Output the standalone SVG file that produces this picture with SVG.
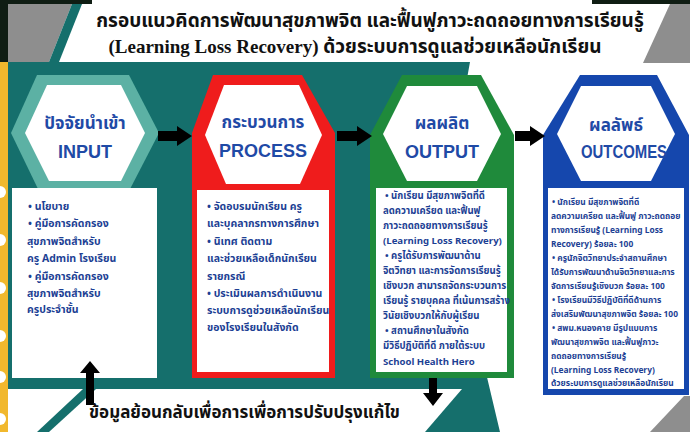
<svg xmlns="http://www.w3.org/2000/svg" width="690" height="432" viewBox="0 0 690 432">
<defs>
<style>
.bg-teal{fill:#156f6c}
.title{font-family:"Liberation Serif","Noto Sans Thai","Noto Serif Thai",serif;font-weight:bold;font-size:19px;fill:#111}
.hth{font-family:"Noto Sans Thai","Liberation Sans","Noto Sans",sans-serif;font-weight:bold;font-size:17px;fill:#1f4aa6;text-anchor:middle}
.hen{font-family:"Liberation Sans","Noto Sans",sans-serif;font-weight:bold;font-size:18px;fill:#1f4aa6;text-anchor:middle}
.body{font-family:"Noto Sans Thai","Liberation Sans","Noto Sans",sans-serif;font-weight:bold;fill:#1d3f94}
.fb{font-family:"Noto Sans Thai","Liberation Sans","Noto Sans",sans-serif;font-weight:bold;font-size:17px;fill:#111}
.arrow{fill:#000}
.white{fill:#fff}
</style>
</defs>

<!-- background -->
<rect x="0" y="0" width="690" height="432" fill="#fff"/>
<polygon class="bg-teal" points="8,62 470,62 445,200 500,432 8,432"/>
<polygon class="white" points="96,389 462,389 425,432 49,432"/>
<polygon class="white" points="8,389 83,389 37,432 8,432"/>
<rect x="0" y="0" width="92" height="4" fill="#0f1d13"/>
<rect x="0" y="0" width="8" height="64" fill="#0f1d13"/>
<polygon points="8,4 72,4 49,62 8,62" fill="#8e8e8e"/>
<polygon points="72,4 82,4 59,62 49,62" fill="#156f6c"/>
<rect x="592" y="0" width="98" height="4" fill="#0f1d13"/>
<polygon points="670,4 690,4 690,63 643,63" fill="#8e8e8e"/>
<polygon points="684,396 690,396 690,432 650,432" fill="#8e8e8e"/>
<rect x="0" y="62" width="8" height="370" fill="#f1b82d"/>
<g fill="#fff">
<circle cx="0" cy="192" r="6"/>
<circle cx="0" cy="240" r="6"/>
<circle cx="0" cy="288" r="6"/>
<circle cx="0" cy="336" r="6"/>
<circle cx="0" cy="377" r="6"/>
<circle cx="0" cy="419" r="6"/>
</g>

<g id="title">
<text class="title" x="370" y="27" text-anchor="middle">กรอบแนวคิดการพัฒนาสุขภาพจิต และฟื้นฟูภาวะถดถอยทางการเรียนรู้</text>
<text class="title" x="355" y="53" text-anchor="middle">(Learning Loss Recovery) ด้วยระบบการดูแลช่วยเหลือนักเรียน</text>
</g>

<g id="input">
<polygon points="37,75 129,75 159,133 129,191 39,191 11,133" fill="#5cb1a4"/>
<polygon points="47,85 121,85 145,133 121,181 49,181 25,133" fill="#fff"/>
<text class="hth" x="85" y="129">ปัจจัยนำเข้า</text>
<text class="hen" x="85" y="158">INPUT</text>
<rect x="12" y="188" width="145" height="190" fill="#fff"/>
<g class="body" font-size="10.5">
<text x="28" y="210">• นโยบาย</text>
<text x="28" y="227">• คู่มือการคัดกรอง</text>
<text x="27" y="245">สุขภาพจิตสำหรับ</text>
<text x="27" y="262">ครู Admin โรงเรียน</text>
<text x="28" y="280">• คู่มือการคัดกรอง</text>
<text x="27" y="297">สุขภาพจิตสำหรับ</text>
<text x="27" y="313">ครูประจำชั้น</text>
</g>
</g>

<g id="process">
<polygon points="213,75 302,75 335,133 335,378 192,378 192,133" fill="#ef1c1c"/>
<polygon points="224,85 299,85 322,135 300,184 226,184 205,135" fill="#fff"/>
<rect x="197" y="190" width="132" height="182" fill="#fff"/>
<text class="hth" x="263" y="128">กระบวนการ</text>
<text class="hen" x="263" y="157">PROCESS</text>
<g class="body" font-size="10.5">
<text x="207" y="210">• จัดอบรมนักเรียน ครู</text>
<text x="207" y="227">และบุคลากรทางการศึกษา</text>
<text x="207" y="245">• นิเทศ ติดตาม</text>
<text x="207" y="262">และช่วยเหลือเด็กนักเรียน</text>
<text x="207" y="280">รายกรณี</text>
<text x="207" y="297">• ประเมินผลการดำเนินงาน</text>
<text x="207" y="314">ระบบการดูช่วยเหลือนักเรียน</text>
<text x="207" y="331">ของโรงเรียนในสังกัด</text>
</g>
</g>

<g id="output">
<polygon points="402,75 481,75 514,135 514,378 370,378 370,135" fill="#1f8a3b"/>
<polygon points="407,86 477,86 501,134 477,181 407,181 383,134" fill="#fff"/>
<rect x="376" y="188" width="131" height="184" fill="#fff"/>
<text class="hth" x="442" y="129">ผลผลิต</text>
<text class="hen" x="442" y="158">OUTPUT</text>
<g class="body" font-size="9.6">
<text x="385" y="199">• นักเรียน มีสุขภาพจิตที่ดี</text>
<text x="383" y="214">ลดความเครียด และฟื้นฟู</text>
<text x="383" y="229">ภาวะถดถอยทางการเรียนรู้</text>
<text x="383" y="244">(Learning Loss Recovery)</text>
<text x="385" y="259">• ครูได้รับการพัฒนาด้าน</text>
<text x="383" y="274">จิตวิทยา และการจัดการเรียนรู้</text>
<text x="383" y="289">เชิงบวก สามารถจัดกระบวนการ</text>
<text x="383" y="304">เรียนรู้ รายบุคคล ที่เน้นการสร้าง</text>
<text x="383" y="319">วินัยเชิงบวกให้กับผู้เรียน</text>
<text x="385" y="334">• สถานศึกษาในสังกัด</text>
<text x="383" y="349">มีวิธีปฏิบัติที่ดี ภายใต้ระบบ</text>
<text x="383" y="365">School Health Hero</text>
</g>
</g>

<g id="outcomes">
<polygon points="580,75 657,75 689,135 689,395 543,395 543,135" fill="#1547ad"/>
<polygon points="581,86 651,86 675,134 651,181 581,181 557,134" fill="#fff"/>
<rect x="548" y="188" width="136" height="201" fill="#fff"/>
<text class="hth" x="616" y="131">ผลลัพธ์</text>
<text class="hen" x="624" y="158" textLength="86" lengthAdjust="spacingAndGlyphs">OUTCOMES</text>
<g class="body" font-size="8.4">
<text x="552" y="205">• นักเรียน มีสุขภาพจิตที่ดี</text>
<text x="551" y="219">ลดความเครียด และฟื้นฟู ภาวะถดถอย</text>
<text x="551" y="233">ทางการเรียนรู้ (Learning Loss</text>
<text x="551" y="247">Recovery) ร้อยละ 100</text>
<text x="552" y="261">• ครูนักจิตวิทยาประจำสถานศึกษา</text>
<text x="551" y="275">ได้รับการพัฒนาด้านจิตวิทยาและการ</text>
<text x="551" y="289">จัดการเรียนรู้เชิงบวก ร้อยละ 100</text>
<text x="552" y="303">• โรงเรียนมีวิธีปฏิบัติที่ดีด้านการ</text>
<text x="551" y="317">ส่งเสริมพัฒนาสุขภาพจิต ร้อยละ 100</text>
<text x="552" y="331">• สพม.หนองคาย มีรูปแบบการ</text>
<text x="551" y="345">พัฒนาสุขภาพจิต และฟื้นฟูภาวะ</text>
<text x="551" y="359">ถดถอยทางการเรียนรู้</text>
<text x="551" y="373">(Learning Loss Recovery)</text>
<text x="551" y="386">ด้วยระบบการดูแลช่วยเหลือนักเรียน</text>
</g>
</g>

<g id="connectors" class="arrow">
<polygon points="158,131 177,131 177,126 192,136 177,146 177,141 158,141"/>
<polygon points="337,131 357,131 357,126 372,136 357,146 357,141 337,141"/>
<polygon points="515,131 530,131 530,126 545,136 530,146 530,141 515,141"/>
<polygon points="86,405 86,373 80,373 90,361 100,373 94,373 94,405"/>
<polygon points="429,378 437,378 437,393 443,393 433,406 423,393 429,393"/>
</g>

<g id="feedback">
<text class="fb" x="89" y="418">ข้อมูลย้อนกลับเพื่อการเพื่อการปรับปรุงแก้ไข</text>
</g>
</svg>
